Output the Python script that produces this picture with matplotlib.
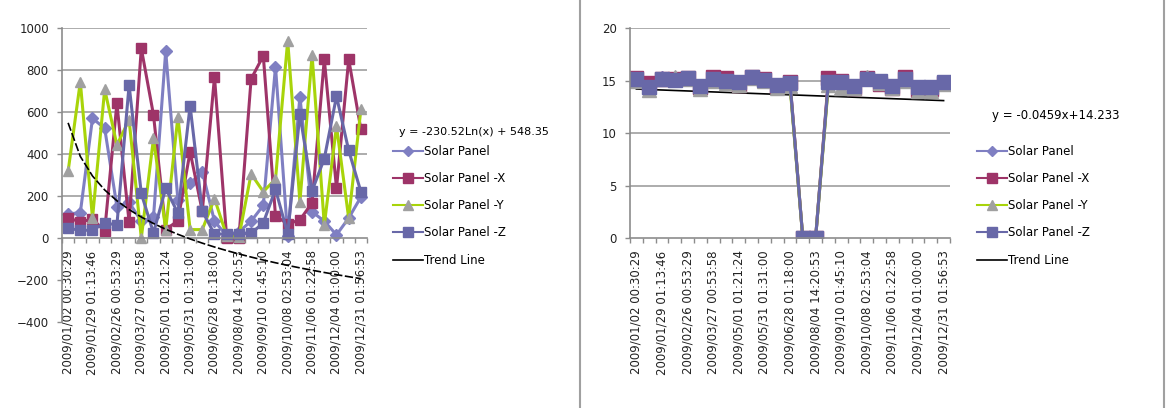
import numpy as np
import matplotlib
matplotlib.use("Agg")
import matplotlib.pyplot as plt
from matplotlib.lines import Line2D

plt.rcParams["font.family"] = ["DejaVu Sans"]

# 25 sample times, every second one is labelled
tick_labels = [
    "2009/01/02 00:30:29", "2009/01/29 01:13:46", "2009/02/26 00:53:29",
    "2009/03/27 00:53:58", "2009/05/01 01:21:24", "2009/05/31 01:31:00",
    "2009/06/28 01:18:00", "2009/08/04 14:20:53", "2009/09/10 01:45:10",
    "2009/10/08 02:53:04", "2009/11/06 01:22:58", "2009/12/04 01:00:00",
    "2009/12/31 01:56:53",
]
n_points = 25

# left chart
panel = [115, 120, 570, 522, 150, 170, 80, 100, 890, 180, 260, 315, 80,
         10, 30, 80, 155, 816, 10, 673, 125, 80, 15, 95, 195]
panel_x = [94, 78, 89, 35, 641, 75, 903, 586, 40, 82, 411, 127, 767,
           0, 0, 757, 868, 105, 67, 86, 168, 851, 237, 851, 517]
panel_y = [317, 744, 94, 708, 443, 562, 0, 475, 40, 578, 40, 40, 188,
           10, 5, 305, 221, 280, 940, 173, 871, 62, 533, 94, 613]
panel_z = [46, 37, 37, 72, 62, 728, 212, 24, 237, 118, 630, 128, 18,
           20, 20, 22, 72, 232, 20, 590, 225, 378, 675, 417, 220]
log_a, log_b = -230.52, 548.35

# right chart
r_panel = [15.1, 14.4, 15.2, 15.1, 15.2, 14.5, 15.2, 15.0, 14.9, 15.3, 15.1, 14.6, 14.8,
           0, 0, 14.9, 14.8, 14.5, 15.1, 14.9, 14.5, 15.1, 14.4, 14.4, 14.8]
r_panel_x = [15.2, 14.8, 15.1, 15.1, 15.2, 14.4, 15.3, 15.2, 14.6, 15.3, 15.1, 14.5, 14.9,
             0, 0, 15.2, 15.0, 14.3, 15.2, 14.7, 14.3, 15.3, 14.1, 14.2, 14.8]
r_panel_y = [15.0, 14.1, 15.1, 15.3, 15.1, 14.2, 15.0, 14.8, 14.6, 15.2, 15.0, 14.3, 14.5,
             0, 0, 14.6, 14.3, 14.3, 15.3, 14.8, 14.3, 15.0, 14.0, 14.0, 14.7]
r_panel_z = [15.14, 14.38, 15.17, 15.08, 15.24, 14.5, 15.17, 14.98, 14.86, 15.3, 15.08, 14.6, 14.76,
             0, 0, 14.86, 14.83, 14.5, 15.14, 14.92, 14.5, 15.14, 14.38, 14.38, 14.83]
lin_a, lin_b = -0.0459, 14.233

names = ["Solar Panel", "Solar Panel -X", "Solar Panel -Y", "Solar Panel -Z"]
c_panel = "#7f7fc2"
c_x = "#9e3468"
c_y = "#a8d40a"
c_z = "#6868a8"
grid_c = "#a6a6a6"
fs = 8.5


def style_axis(ax, ymin, ymax, ystep):
    cats = np.arange(n_points)
    ax.set_xlim(-0.5, n_points - 0.5)
    ax.set_ylim(ymin, ymax)
    ax.set_yticks(np.arange(ymin, ymax + ystep / 2, ystep))
    ax.set_xticks(cats[::2])
    ax.set_xticklabels(tick_labels, rotation=90, va="top", ha="center")
    ax.set_xticks(np.arange(-0.5, n_points, 1), minor=True)
    ax.tick_params(axis="x", which="major", length=0, pad=9, labelsize=fs, colors="#222222")
    ax.tick_params(axis="x", which="minor", length=3.5, width=1, color="#8c8c8c", direction="out")
    ax.tick_params(axis="y", length=3.5, width=1, color="#8c8c8c", pad=6, labelsize=fs,
                   labelcolor="#222222")
    for s in ["top", "right"]:
        ax.spines[s].set_visible(False)
    for s in ["left", "bottom"]:
        ax.spines[s].set_color("#8c8c8c")
        ax.spines[s].set_linewidth(1.2)
    for v in np.arange(ystep, ymax + ystep / 2, ystep):
        if v > 0:
            ax.axhline(v, color=grid_c, lw=1.3, zorder=0)


def draw_series(ax, vals, ms, lw):
    x = np.arange(n_points)
    p, px, py, pz = vals
    ax.plot(x, p, color=c_panel, lw=lw, marker="D", ms=ms * 0.8, mfc=c_panel, mec=c_panel)
    ax.plot(x, px, color=c_x, lw=lw, marker="s", ms=ms, mfc=c_x, mec=c_x)
    ax.plot(x, py, color=c_y, lw=lw, marker="^", ms=ms, mfc="#a0a0a0", mec="#a0a0a0")
    ax.plot(x, pz, color=c_z, lw=lw, marker="s", ms=ms, mfc=c_z, mec=c_z)


def add_legend(ax, fig, x, y):
    handles = [
        Line2D([], [], color=c_panel, lw=1.5, marker="D", ms=5.5, mfc=c_panel, mec=c_panel),
        Line2D([], [], color=c_x, lw=1.5, marker="s", ms=7.5, mfc=c_x, mec=c_x),
        Line2D([], [], color=c_y, lw=1.5, marker="^", ms=7.5, mfc="#a0a0a0", mec="#a0a0a0"),
        Line2D([], [], color=c_z, lw=1.5, marker="s", ms=7.5, mfc=c_z, mec=c_z),
        Line2D([], [], color="black", lw=1.2),
    ]
    ax.legend(handles, names + ["Trend Line"], loc="upper left",
              bbox_to_anchor=(x, y), bbox_transform=fig.transFigure,
              frameon=False, fontsize=fs, labelspacing=1.2, handlelength=2.5,
              handletextpad=0.1, borderpad=0, borderaxespad=0)


fig = plt.figure(figsize=(11.74, 4.08), dpi=100)

# left chart
ax1 = fig.add_axes([62 / 1174, 1 - 322 / 408, 305 / 1174, 294 / 408])
ax1.spines["bottom"].set_position(("data", 0))
style_axis(ax1, -400, 1000, 200)
draw_series(ax1, [panel, panel_x, panel_y, panel_z], 7.5, 2.2)
t = np.arange(1, n_points + 1)
ax1.plot(t - 1, log_a * np.log(t) + log_b, color="black", lw=1.2, dashes=(5, 1.5), zorder=5)
fig.text(399 / 1174, 1 - 132 / 408, "y = -230.52Ln(x) + 548.35", fontsize=8, va="center")
add_legend(ax1, fig, 393 / 1174, 1 - 145 / 408)

# right chart
ax2 = fig.add_axes([630 / 1174, 1 - 238 / 408, 320 / 1174, 210 / 408])
style_axis(ax2, 0, 20, 5)
draw_series(ax2, [r_panel, r_panel_x, r_panel_y, r_panel_z], 9.5, 2.2)
ax2.plot(t - 1, lin_a * t + lin_b, color="black", lw=1.2, zorder=1.5)
fig.text(992 / 1174, 1 - 115 / 408, "y = -0.0459x+14.233", fontsize=fs, va="center")
add_legend(ax2, fig, 977 / 1174, 1 - 145 / 408)

# panel separators
for xp in [580, 1164]:
    fig.add_artist(Line2D([xp / 1174, xp / 1174], [0, 1], color="#a0a0a0", lw=1.5))

fig.savefig("out.png", dpi=100)
